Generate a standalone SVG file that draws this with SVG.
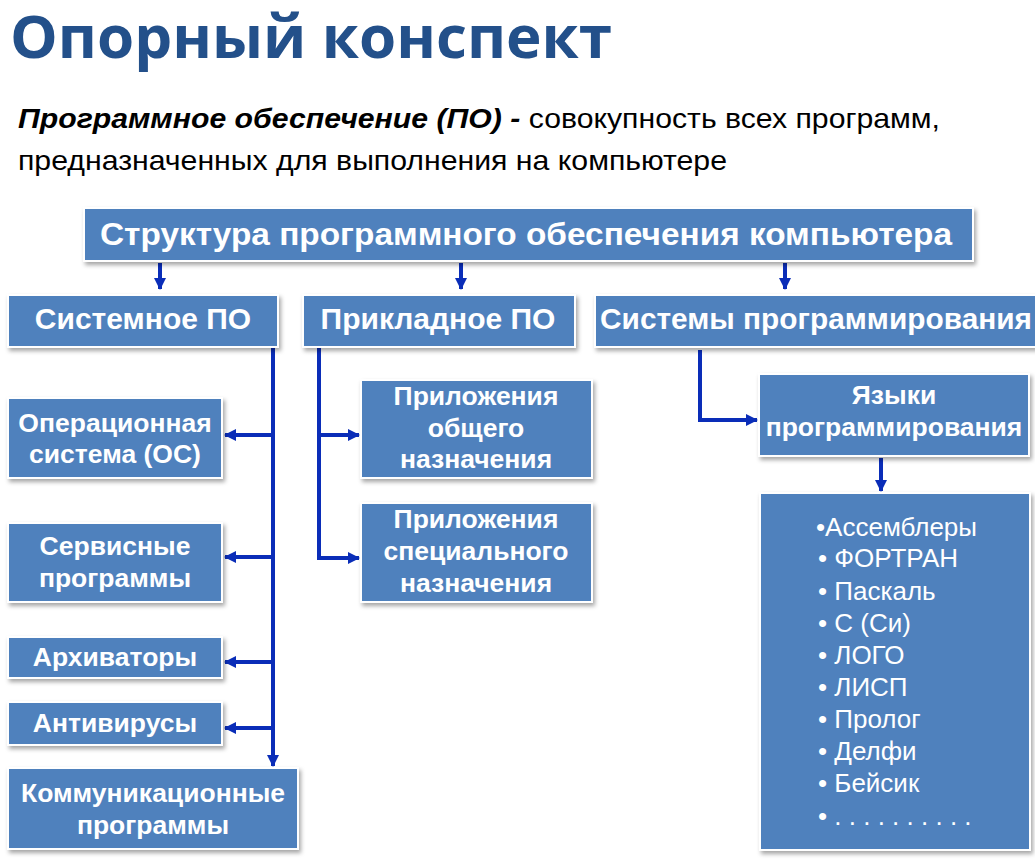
<svg xmlns="http://www.w3.org/2000/svg" width="1035" height="863" viewBox="0 0 1035 863">
<style>
.box{fill:#4f81bd;stroke:#ffffff;stroke-width:2;filter:url(#sh)}
.bt{font-family:"Liberation Sans",Arial,sans-serif;font-weight:bold;fill:#ffffff;text-anchor:middle}
.b32{font-size:32px}
.b30{font-size:30px}
.b26{font-size:26.5px}
.lt{font-family:"Liberation Sans",Arial,sans-serif;font-size:26px;fill:#ffffff}
.con{fill:none;stroke:#0a2db8;stroke-width:4;marker-end:url(#ah)}
</style>
<defs>
<filter id="sh" x="-10%" y="-10%" width="120%" height="130%">
<feDropShadow dx="2" dy="3" stdDeviation="2" flood-color="#000000" flood-opacity="0.35"/>
</filter>
<marker id="ah" markerUnits="userSpaceOnUse" markerWidth="14" markerHeight="14" refX="11" refY="6" orient="auto">
<path d="M0,0 L12,6 L0,12 Z" fill="#0a2db8"/>
</marker>
</defs>
<rect width="1035" height="863" fill="#ffffff"/>
<text id="title" x="10" y="58" font-family="'Open Sans','Noto Sans',sans-serif" font-weight="bold" font-size="59" fill="#23508a" textLength="602" lengthAdjust="spacingAndGlyphs">Опорный конспект</text>
<g id="definition" font-family="'Liberation Sans',Arial,sans-serif" font-size="28" fill="#000000">
<text x="18" y="128" textLength="922" lengthAdjust="spacingAndGlyphs"><tspan font-weight="bold" font-style="italic">Программное обеспечение (ПО) -</tspan> совокупность всех программ,</text>
<text x="18" y="170" textLength="709" lengthAdjust="spacingAndGlyphs">предназначенных для выполнения на компьютере</text>
</g>
<g id="connectors">
<path class="con" d="M160,263 V289"/>
<path class="con" d="M461,263 V289"/>
<path class="con" d="M785,263 V289"/>
<path class="con" d="M273,348 V766"/>
<path class="con" d="M273,435 H225"/>
<path class="con" d="M273,557 H225"/>
<path class="con" d="M273,662 H225"/>
<path class="con" d="M273,728 H225"/>
<path class="con" d="M319,348 V435 H359"/>
<path class="con" d="M319,435 V558 H359"/>
<path class="con" d="M700,350 V420 H757"/>
<path class="con" d="M881,458 V491"/>
</g>
<g id="n-root"><rect class="box" x="84" y="208" width="889" height="53"/><text class="bt b32" x="526" y="245" textLength="852" lengthAdjust="spacingAndGlyphs">Структура программного обеспечения компьютера</text></g>
<g id="n-system"><rect class="box" x="8" y="295" width="270" height="52"/><text class="bt b30" x="143" y="329">Системное ПО</text></g>
<g id="n-applied"><rect class="box" x="303" y="295" width="272" height="52"/><text class="bt b30" x="438" y="329">Прикладное ПО</text></g>
<g id="n-progsys"><rect class="box" x="595" y="295" width="445" height="52"/><text class="bt b30" x="816" y="329" textLength="432" lengthAdjust="spacingAndGlyphs">Системы программирования</text></g>
<g id="n-os"><rect class="box" x="8" y="398" width="214" height="80"/><text class="bt b26" x="115" y="432">Операционная</text><text class="bt b26" x="115" y="463">система (ОС)</text></g>
<g id="n-service"><rect class="box" x="8" y="523" width="214" height="79"/><text class="bt b26" x="115" y="555">Сервисные</text><text class="bt b26" x="115" y="587">программы</text></g>
<g id="n-arch"><rect class="box" x="8" y="637" width="214" height="41"/><text class="bt b26" x="115" y="666">Архиваторы</text></g>
<g id="n-av"><rect class="box" x="8" y="702" width="214" height="43"/><text class="bt b26" x="115" y="732">Антивирусы</text></g>
<g id="n-comm"><rect class="box" x="8" y="768" width="290" height="81"/><text class="bt b26" x="153" y="802">Коммуникационные</text><text class="bt b26" x="153" y="834">программы</text></g>
<g id="n-appgen"><rect class="box" x="361" y="380" width="231" height="98"/><text class="bt b26" x="476" y="405">Приложения</text><text class="bt b26" x="476" y="437">общего</text><text class="bt b26" x="476" y="468">назначения</text></g>
<g id="n-appspec"><rect class="box" x="361" y="503" width="231" height="99"/><text class="bt b26" x="476" y="528">Приложения</text><text class="bt b26" x="476" y="560">специального</text><text class="bt b26" x="476" y="592">назначения</text></g>
<g id="n-lang"><rect class="box" x="759" y="374" width="270" height="82"/><text class="bt b26" x="894" y="404">Языки</text><text class="bt b26" x="894" y="436">программирования</text></g>
<g id="n-list"><rect class="box" x="760" y="493" width="270" height="357"/>
<text class="lt" x="816" y="536">•Ассемблеры</text>
<text class="lt" x="818" y="567">• ФОРТРАН</text>
<text class="lt" x="818" y="600">• Паскаль</text>
<text class="lt" x="818" y="632">• C (Си)</text>
<text class="lt" x="818" y="664">• ЛОГО</text>
<text class="lt" x="818" y="696">• ЛИСП</text>
<text class="lt" x="818" y="728">• Пролог</text>
<text class="lt" x="818" y="760">• Делфи</text>
<text class="lt" x="818" y="792">• Бейсик</text>
<text class="lt" x="818" y="825">• . . . . . . . . . .</text>
</g>
</svg>
